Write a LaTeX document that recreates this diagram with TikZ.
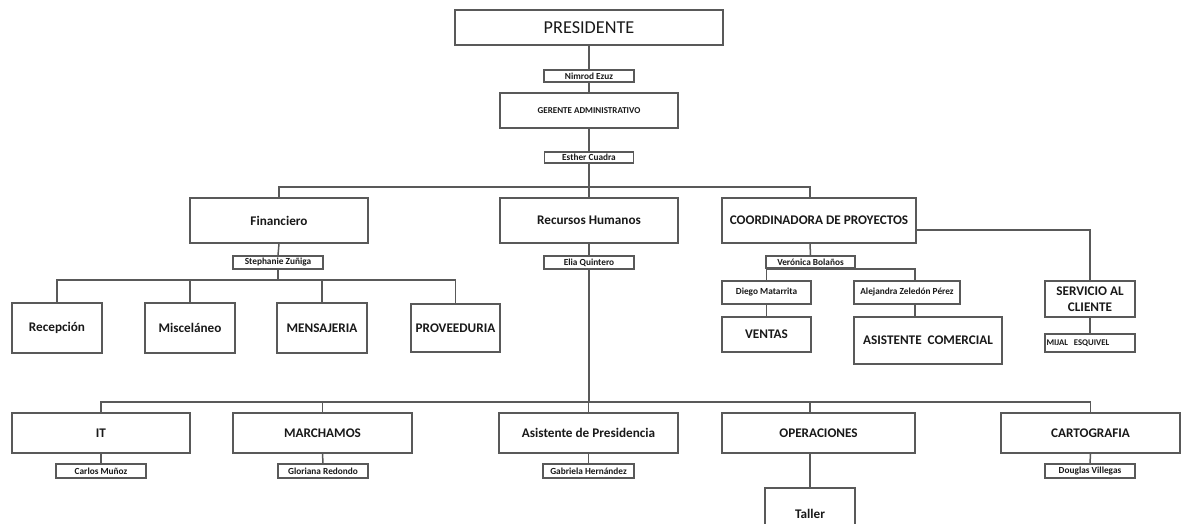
\documentclass[tikz,border=0pt]{standalone}
\usepackage{fontspec}
\setmainfont{Carlito}
\begin{document}
\begin{tikzpicture}[x=1pt,y=-1pt,
  box/.style={draw=black!65, line width=1.5pt, fill=white, inner sep=0pt, align=center, text=black!90},
  bigbox/.style={box, font=\fontsize{13.2}{15.5}\selectfont\bfseries},
  namebox/.style={box, font=\fontsize{9.3}{10}\selectfont\bfseries},
  conn/.style={draw=black!65, line width=1.5pt}]
\clip (0,0) rectangle (1183,523);
\fill[white] (0,0) rectangle (1183,523);
% top chain
\node[box, font=\fontsize{18.2}{21}\selectfont, minimum width=268pt, minimum height=35pt] (pres) at (589,27.5) {PRESIDENTE};
\node[namebox, minimum width=90pt, minimum height=12pt] (nimrod) at (589,76) {Nimrod Ezuz};
\node[namebox, font=\fontsize{9}{10}\selectfont\bfseries, minimum width=178pt, minimum height=35pt] (gerente) at (589,110.5) {GERENTE ADMINISTRATIVO};
\node[namebox, minimum width=89pt, minimum height=11pt] (esther) at (589,157.5) {Esther Cuadra};
% second level
\node[bigbox, minimum width=178pt, minimum height=45pt] (fin) at (279,220.5) {Financiero};
\node[bigbox, minimum width=178pt, minimum height=45pt] (rrhh) at (589,220.5) {Recursos Humanos};
\node[bigbox, minimum width=194pt, minimum height=45pt] (coord) at (819,220.5) {COORDINADORA DE PROYECTOS};
% financiero branch
\node[namebox, minimum width=90pt, minimum height=13pt] (steph) at (278,262.5) {Stephanie Zuñiga};
\node[bigbox, minimum width=90pt, minimum height=50pt] (recep) at (57,328) {Recepción};
\node[bigbox, minimum width=90pt, minimum height=50pt] (misc) at (190,328) {Misceláneo};
\node[bigbox, minimum width=90pt, minimum height=50pt] (mens) at (322,328) {MENSAJERIA};
\node[bigbox, minimum width=89pt, minimum height=48pt] (prov) at (455.5,328) {PROVEEDURIA};
% rrhh
\node[namebox, minimum width=90pt, minimum height=13pt] (elia) at (589,262.5) {Elia Quintero};
% coordinadora branch
\node[namebox, minimum width=89pt, minimum height=12pt] (vero) at (810.5,262) {Verónica Bolaños};
\node[namebox, minimum width=89pt, minimum height=23pt] (diego) at (766.5,292.5) {Diego Matarrita};
\node[namebox, minimum width=106pt, minimum height=23pt] (alej) at (907,292.5) {Alejandra Zeledón Pérez};
\node[bigbox, minimum width=89pt, minimum height=35pt] (ventas) at (766.5,334.5) {VENTAS};
\node[bigbox, minimum width=148pt, minimum height=47pt] (asiscom) at (928,340.5) {ASISTENTE\ \ COMERCIAL};
\node[bigbox, minimum width=90pt, minimum height=36pt] (serv) at (1090,299) {SERVICIO AL\\CLIENTE};
\node[namebox, font=\fontsize{8.7}{10}\selectfont\bfseries, minimum width=90pt, minimum height=18pt, text width=87pt, align=left] (mijal) at (1090,343) {MIJAL\ \ ESQUIVEL};
% bottom row
\node[bigbox, minimum width=178pt, minimum height=40pt] (it) at (101,433) {IT};
\node[bigbox, minimum width=179pt, minimum height=40pt] (marc) at (322.5,433) {MARCHAMOS};
\node[bigbox, minimum width=179pt, minimum height=40pt] (asispres) at (588.5,433) {Asistente de Presidencia};
\node[bigbox, minimum width=193pt, minimum height=40pt] (oper) at (818.5,433) {OPERACIONES};
\node[bigbox, minimum width=179pt, minimum height=40pt] (carto) at (1090.5,433) {CARTOGRAFIA};
\node[namebox, minimum width=90pt, minimum height=14pt] (carlos) at (101,471) {Carlos Muñoz};
\node[namebox, minimum width=90pt, minimum height=14pt] (glor) at (323,471) {Gloriana Redondo};
\node[namebox, minimum width=91pt, minimum height=14pt] (gab) at (588.5,471) {Gabriela Hernández};
\node[namebox, minimum width=90pt, minimum height=14pt] (doug) at (1090,471) {Douglas Villegas};
\node[box, font=\fontsize{13.2}{15.5}\selectfont\bfseries, minimum width=90pt, minimum height=44pt, text depth=0pt] (taller) at (810,510) {\raisebox{-8pt}{Taller}};
% bus coordinates
\coordinate (b1) at (589,187);
\coordinate (b2) at (278,280);
\coordinate (b3) at (589,402);
\coordinate (opx) at (810,402);
\coordinate (cdx) at (810,187);
\coordinate (alx) at (915,269);
\coordinate (cdr) at (916,230);
% connectors
\draw[conn] (pres.south) -- (nimrod.north);
\draw[conn] (nimrod.south) -- (gerente.north);
\draw[conn] (gerente.south) -- (esther.north);
\draw[conn] (esther.south) -- (b1);
\draw[conn] (fin.north) |- (cdx) -- (cdx |- coord.north);
\draw[conn] (rrhh.north) -- (rrhh.north |- b1);
\draw[conn] (fin.south) -- (steph.north);
\draw[conn] (steph.south) -- (b2);
\draw[conn] (recep.north) |- (prov.north |- b2) -- (prov.north);
\draw[conn] (misc.north) -- (misc.north |- b2);
\draw[conn] (mens.north) -- (mens.north |- b2);
\draw[conn] (rrhh.south) -- (elia.north);
\draw[conn] (elia.south) -- (b3);
\draw[conn] (it.north) |- (carto.north |- b3) -- (carto.north);
\draw[conn] (marc.north) -- (marc.north |- b3);
\draw[conn] (asispres.north) -- (asispres.north |- b3);
\draw[conn] (opx) -- (opx |- oper.north);
\draw[conn] (opx |- oper.south) -- (taller.north);
\draw[conn] (it.south) -- (carlos.north);
\draw[conn] (marc.south) -- (glor.north);
\draw[conn] (asispres.south) -- (gab.north);
\draw[conn] (carto.south) -- (doug.north);
\draw[conn] (cdx |- coord.south) -- (vero.north);
\draw[conn] (diego.north) |- (alx) -- (alx |- alej.north);
\draw[conn] (diego.south) -- (ventas.north);
\draw[conn] (alx |- alej.south) -- (alx |- asiscom.north);
\draw[conn] (cdr) -| (serv.north);
\draw[conn] (serv.south) -- (mijal.north);
\end{tikzpicture}
\end{document}
